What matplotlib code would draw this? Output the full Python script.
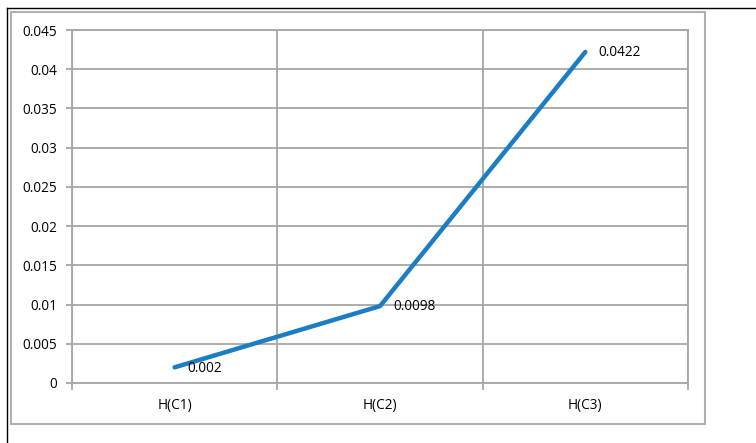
import matplotlib
matplotlib.use("Agg")
import matplotlib.pyplot as plt
from matplotlib.patches import Rectangle
from matplotlib.lines import Line2D

# --- Daten ---
categories = ["H(C1)", "H(C2)", "H(C3)"]
values = [0.002, 0.0098, 0.0422]
value_labels = ["0.002", "0.0098", "0.0422"]
yticks = [0, 0.005, 0.01, 0.015, 0.02, 0.025, 0.03, 0.035, 0.04, 0.045]
ytick_labels = ["0", "0.005", "0.01", "0.015", "0.02", "0.025", "0.03", "0.035", "0.04", "0.045"]

W, H = 756, 443
plt.rcParams['font.family'] = ['Open Sans', 'DejaVu Sans']
fs = 9.8
fig = plt.figure(figsize=(W / 100, H / 100), dpi=100)

# Plotbereich in Pixeln: links 72, rechts 688, oben 30, unten 383
ax = fig.add_axes([72 / W, 1 - 383 / H, (688 - 72) / W, (383 - 30) / H])

grid_c = "#a6a6a6"
x = [i + 0.5 for i in range(len(categories))]
ax.plot(x, values, color="#1b7dc3", lw=3.2, solid_capstyle="round", zorder=3)

for xi, v, lab in zip(x, values, value_labels):
    ax.annotate(lab, (xi, v), xytext=(9.5, -0.5), textcoords="offset points",
                fontsize=fs, va="center", ha="left", color="black")

ax.set_xlim(0, 3)
ax.set_ylim(0, 0.045)
ax.set_yticks(yticks)
ax.set_yticklabels(ytick_labels, fontsize=fs)
ax.set_xticks([0, 1, 2, 3])
ax.set_xticklabels([])
ax.set_xticks(x, minor=True)
ax.set_xticklabels(categories, minor=True, fontsize=fs)
ax.tick_params(axis="x", which="minor", length=0, pad=11)
ax.tick_params(axis="x", which="major", length=5, width=1.3, color=grid_c)
ax.tick_params(axis="y", length=4, width=1.3, color=grid_c, pad=6.5)

ax.grid(True, which="major", color=grid_c, lw=1.3)
for s in ax.spines.values():
    s.set_color(grid_c)
    s.set_linewidth(1.3)

# Rahmen
fig.add_artist(Rectangle((11 / W, 1 - 424 / H), (705 - 11) / W, (424 - 12) / H,
                         transform=fig.transFigure, fill=False, ec="#b0b0b0", lw=1.5))
fig.add_artist(Line2D([7 / W, 1], [1 - 8 / H, 1 - 8 / H], transform=fig.transFigure,
                      color="black", lw=1))
fig.add_artist(Line2D([7 / W, 7 / W], [0, 1 - 8 / H], transform=fig.transFigure,
                      color="black", lw=1))

fig.savefig("out.png", dpi=100)
